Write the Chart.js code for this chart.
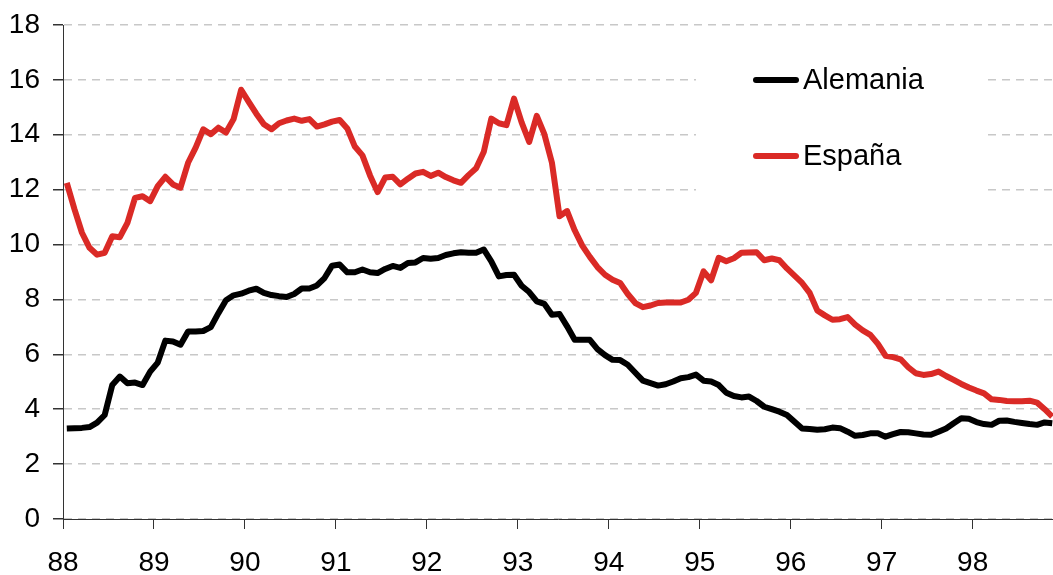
<!DOCTYPE html>
<html>
<head>
<meta charset="utf-8">
<script src="https://cdn.jsdelivr.net/npm/chart.js@4.4.1/dist/chart.umd.min.js"></script>
<style>
  html, body { margin: 0; padding: 0; background: #fff; }
  #wrap { width: 1053px; height: 575px; }
</style>
</head>
<body>
<div id="wrap"><canvas id="chart"></canvas></div>
<script>
// monthly data, Jan 1988 .. Nov 1998
const yearLabels = ['88', '89', '90', '91', '92', '93', '94', '95', '96', '97', '98']

const alemania = [
  3.30, 3.31, 3.32, 3.35, 3.51, 3.79, 4.88, 5.19, 4.95, 4.97, 4.88, 5.37,
  5.70, 6.50, 6.47, 6.35, 6.83, 6.83, 6.85, 6.99, 7.50, 7.97, 8.15, 8.21,
  8.32, 8.39, 8.24, 8.16, 8.12, 8.09, 8.20, 8.40, 8.40, 8.51, 8.78, 9.23,
  9.27, 8.99, 8.99, 9.09, 8.99, 8.96, 9.11, 9.22, 9.15, 9.33, 9.35, 9.51,
  9.48, 9.51, 9.62, 9.68, 9.72, 9.70, 9.70, 9.82, 9.39, 8.84, 8.89, 8.90,
  8.50, 8.27, 7.93, 7.84, 7.44, 7.47, 7.02, 6.53, 6.53, 6.53, 6.19, 5.97,
  5.80, 5.79, 5.62, 5.33, 5.04, 4.95, 4.86, 4.91, 5.01, 5.13, 5.17, 5.26,
  5.04, 5.01, 4.88, 4.60, 4.48, 4.43, 4.46, 4.30, 4.09, 4.00, 3.91, 3.79,
  3.54, 3.30, 3.28, 3.25, 3.27, 3.33, 3.31, 3.18, 3.03, 3.06, 3.12, 3.12,
  3.00, 3.09, 3.17, 3.16, 3.12, 3.08, 3.07, 3.18, 3.30, 3.49, 3.67, 3.65,
  3.53, 3.46, 3.43, 3.58, 3.59, 3.54, 3.50, 3.46, 3.43, 3.52, 3.49
]

const espana = [
  12.25, 11.30, 10.43, 9.88, 9.63, 9.70, 10.30, 10.27, 10.79, 11.70, 11.76, 11.58,
  12.13, 12.47, 12.19, 12.07, 12.98, 13.53, 14.20, 14.02, 14.26, 14.08, 14.57, 15.64,
  15.20, 14.77, 14.38, 14.20, 14.42, 14.52, 14.59, 14.51, 14.57, 14.30, 14.38, 14.48,
  14.54, 14.23, 13.57, 13.25, 12.52, 11.91, 12.44, 12.47, 12.19, 12.40, 12.59, 12.65,
  12.50, 12.62, 12.46, 12.34, 12.25, 12.53, 12.78, 13.37, 14.59, 14.42, 14.35, 15.32,
  14.45, 13.74, 14.69, 14.02, 12.98, 11.03, 11.22, 10.52, 9.96, 9.55, 9.18, 8.90,
  8.72, 8.60, 8.20, 7.87, 7.72, 7.78, 7.87, 7.89, 7.89, 7.89, 7.99, 8.24,
  9.02, 8.70, 9.52, 9.39, 9.50, 9.70, 9.71, 9.72, 9.43, 9.49, 9.43, 9.13,
  8.87, 8.60, 8.24, 7.60, 7.42, 7.26, 7.28, 7.36, 7.08, 6.87, 6.71, 6.38,
  5.95, 5.90, 5.82, 5.53, 5.31, 5.25, 5.28, 5.37, 5.21, 5.07, 4.92, 4.79,
  4.68, 4.58, 4.36, 4.34, 4.30, 4.29, 4.29, 4.31, 4.24, 4.00, 3.73
]

const toPoints = arr => arr.map((v, i) => ({ x: i + 0.5, y: v }))

const FONT = '"Liberation Sans", Arial, sans-serif'

// legend drawn inside the plot on a white box, like the original
const boxLegend = {
  id: 'boxLegend',
  beforeDatasetsDraw(chart) {
    const { ctx } = chart
    ctx.save()
    ctx.fillStyle = '#ffffff'
    ctx.fillRect(696, 40, 288, 175)
    chart.data.datasets.forEach((ds, i) => {
      const y = 80 + i * 76
      ctx.strokeStyle = ds.borderColor
      ctx.lineWidth = 6
      ctx.lineCap = 'round'
      ctx.beginPath()
      ctx.moveTo(756, y)
      ctx.lineTo(796, y)
      ctx.stroke()
      ctx.fillStyle = '#000'
      ctx.font = '29px ' + FONT
      ctx.textBaseline = 'middle'
      ctx.textAlign = 'left'
      ctx.fillText(ds.label, 803, y + 1)
    })
    ctx.restore()
  }
}

const ctx = document.getElementById('chart').getContext('2d')
new Chart(ctx, {
  type: 'line',
  data: {
    datasets: [
      {
        label: 'Alemania',
        data: toPoints(alemania),
        borderColor: '#000000',
        borderWidth: 6,
        pointRadius: 0,
        tension: 0,
        borderJoinStyle: 'round'
      },
      {
        label: 'España',
        data: toPoints(espana),
        borderColor: '#da2a26',
        borderWidth: 6,
        pointRadius: 0,
        tension: 0,
        borderJoinStyle: 'round'
      }
    ]
  },
  options: {
    responsive: true,
    maintainAspectRatio: false,
    animation: false,
    layout: { padding: { top: 25, right: 0, left: 0, bottom: 0 } },
    plugins: {
      legend: { display: false },
      tooltip: { enabled: false }
    },
    scales: {
      x: {
        type: 'linear',
        min: 0,
        max: 130.6,
        afterBuildTicks: scale => {
          scale.ticks = yearLabels.map((_, i) => ({ value: i * 12 }))
        },
        afterFit: scale => {
          scale.height = 56
          scale.paddingRight = 0
          scale.paddingLeft = 0
        },
        ticks: {
          callback: (value, index) => yearLabels[index],
          color: '#000',
          font: { family: FONT, size: 28 },
          padding: 17,
          maxRotation: 0,
          autoSkip: false
        },
        grid: {
          drawOnChartArea: false,
          tickLength: 10,
          tickColor: '#333'
        },
        border: { color: '#333', width: 1 }
      },
      y: {
        min: 0,
        max: 18,
        afterFit: scale => {
          scale.width = 63
          scale.paddingTop = 0
          scale.paddingBottom = 0
        },
        ticks: {
          stepSize: 2,
          color: '#000',
          font: { family: FONT, size: 28 },
          padding: 13
        },
        grid: {
          color: '#c8c8c8',
          lineWidth: 1.5,
          tickLength: 10,
          tickColor: '#333',
          tickBorderDash: []
        },
        border: { color: '#333', width: 1, dash: [8, 6] }
      }
    }
  },
  plugins: [boxLegend]
})
</script>
</body>
</html>
